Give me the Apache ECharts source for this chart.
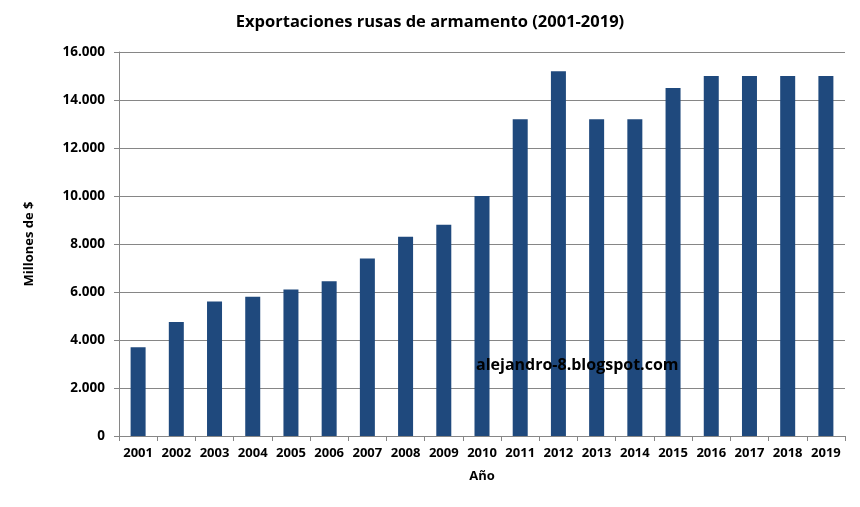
<!DOCTYPE html>
<html><head><meta charset="utf-8">
<script src="https://cdn.jsdelivr.net/npm/echarts@6/dist/echarts.min.js"></script>
<style>html,body{margin:0;padding:0;background:#fff}#c{width:860px;height:507px}</style>
</head><body><div id="c"></div>
<script>
var years = ['2001','2002','2003','2004','2005','2006','2007','2008','2009','2010','2011','2012','2013','2014','2015','2016','2017','2018','2019'];
var exports = [3700,4750,5600,5800,6100,6450,7400,8300,8800,10000,13200,15200,13200,13200,14500,15000,15000,15000,15000];
var yTicks = [0,2000,4000,6000,8000,10000,12000,14000,16000];

var FONT = 'Open Sans';
var chart = echarts.init(document.getElementById('c'));
function fmt(v){ return v === 0 ? '0' : String(v).replace(/\B(?=(\d{3})+(?!\d))/g,'.'); }
chart.setOption({
  animation:false,
  title:{text:'Exportaciones rusas de armamento (2001-2019)',left:'center',top:9,
    textStyle:{fontFamily:FONT,fontSize:16.5,fontWeight:'bold',color:'#000'}},
  grid:{left:119,right:15,top:52,bottom:71},
  xAxis:{type:'category',data:years,
    name:'Año',nameLocation:'middle',nameGap:34,
    nameTextStyle:{fontFamily:FONT,fontSize:13,fontWeight:'bold',color:'#000'},
    axisLine:{lineStyle:{color:'#868686'}},
    axisTick:{show:true,length:5,lineStyle:{color:'#868686'}},
    axisLabel:{fontFamily:FONT,fontSize:13,fontWeight:'bold',color:'#000',margin:11,interval:0}},
  yAxis:{type:'value',min:yTicks[0],max:yTicks[yTicks.length-1],interval:2000,
    name:'Millones de $',nameLocation:'middle',nameGap:83,nameRotate:90,
    nameTextStyle:{fontFamily:FONT,fontSize:13,fontWeight:'bold',color:'#000'},
    axisLine:{show:true,lineStyle:{color:'#868686'}},
    axisTick:{show:true,length:5,lineStyle:{color:'#868686'}},
    splitLine:{lineStyle:{color:'#868686'}},
    axisLabel:{fontFamily:FONT,fontSize:13.5,fontWeight:'bold',color:'#000',margin:14,formatter:fmt}},
  series:[{type:'bar',data:exports,barWidth:15,itemStyle:{color:'#1F497D'}}],
  graphic:[{type:'text',left:476,top:357,z:100,
    style:{text:'alejandro-8.blogspot.com',fontFamily:FONT,fontSize:16,fontWeight:'bold',fill:'#000'}}]
});
</script></body></html>
